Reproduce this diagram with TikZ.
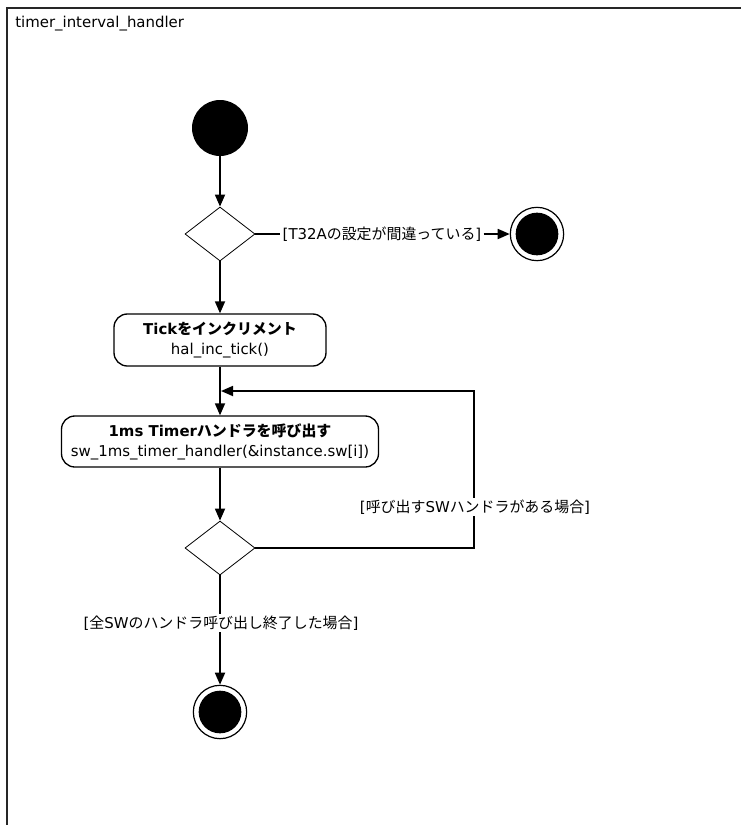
\documentclass[tikz,border=0pt]{standalone}
\usepackage{fontspec}
\setmainfont{DejaVu Sans}
\newfontfamily\cjk{Noto Sans CJK JP}
\usetikzlibrary{arrows.meta,shapes.geometric}
\begin{document}
\begin{tikzpicture}[x=0.75pt,y=-0.75pt,
  font=\fontsize{11.2}{15}\selectfont,
  frameline/.style={line width=1.4pt,draw=black!85},
  conn/.style={line width=1.3pt},
  arr/.style={conn,-{Triangle[length=9pt,width=7.5pt]}},
  startnode/.style={circle,fill=black,minimum size=42pt,inner sep=0pt},
  endnode/.style={circle,draw=black,line width=0.9pt,minimum size=40pt,inner sep=0pt,
    path picture={\fill[black] (path picture bounding box.center) circle (16pt);}},
  decision/.style={diamond,draw=black,line width=0.6pt,minimum width=52.5pt,minimum height=40.5pt,inner sep=0pt},
  action/.style={rectangle,rounded corners=10pt,draw=black,line width=1pt,align=center,inner sep=2pt},
  guard/.style={fill=white,inner sep=1.5pt}
]
\useasboundingbox (0,0) rectangle (741,825);
\fill[white] (0,0) rectangle (741,825);
% frame
\coordinate (fbl) at (7,825);
\coordinate (ftl) at (7,8);
\coordinate (ftr) at (741,8);
\draw[frameline] (fbl) -- (ftl) -- (ftr);
\node[anchor=west,inner sep=0pt] (title) at (15,24) {timer\_interval\_handler};

% nodes
\node[startnode] (start) at (220,128) {};
\node[decision] (d1) at (220,234) {};
\node[endnode] (end1) at (537,234) {};
\node[inner sep=1.5pt] (lab1) at (382,234) {[T32A{\cjk の設定が間違っている}]};
\node[action,minimum width=159pt,minimum height=39pt] (tick) at (220,340)
  {\bfseries Tick{\cjk をインクリメント}\\hal\_inc\_tick()};
\node[action,minimum width=237.75pt,minimum height=38.25pt] (sw) at (220,441.5)
  {\bfseries 1ms Timer{\cjk ハンドラを呼び出す}\\sw\_1ms\_timer\_handler(\&instance.sw[i])};
\node[decision] (d2) at (220,548) {};
\node[endnode] (final) at (220,712) {};
\coordinate (lr) at (474,548);
\coordinate (ur) at (474,391);
\coordinate (loopin) at (221,391);

% connectors
\draw[arr] (start) -- (d1);
\draw[conn] (d1.east) -- (lab1.west);
\draw[arr] (lab1.east) -- (end1.west);
\draw[arr] (d1.south) -- (tick.north);
\draw[arr] (tick.south) -- (sw.north);
\draw[arr] (sw.south) -- (d2.north);
\draw[arr] (d2.east) -- (lr) -- (ur) -- (loopin);
\draw[arr] (d2.south) -- (final.north);

% guards on lines
\node[guard] (lab2) at (475,507) {[{\cjk 呼び出す}SW{\cjk ハンドラがある場合}]};
\node[guard] (lab3) at (221,623) {[{\cjk 全}SW{\cjk のハンドラ呼び出し終了した場合}]};
\end{tikzpicture}
\end{document}
